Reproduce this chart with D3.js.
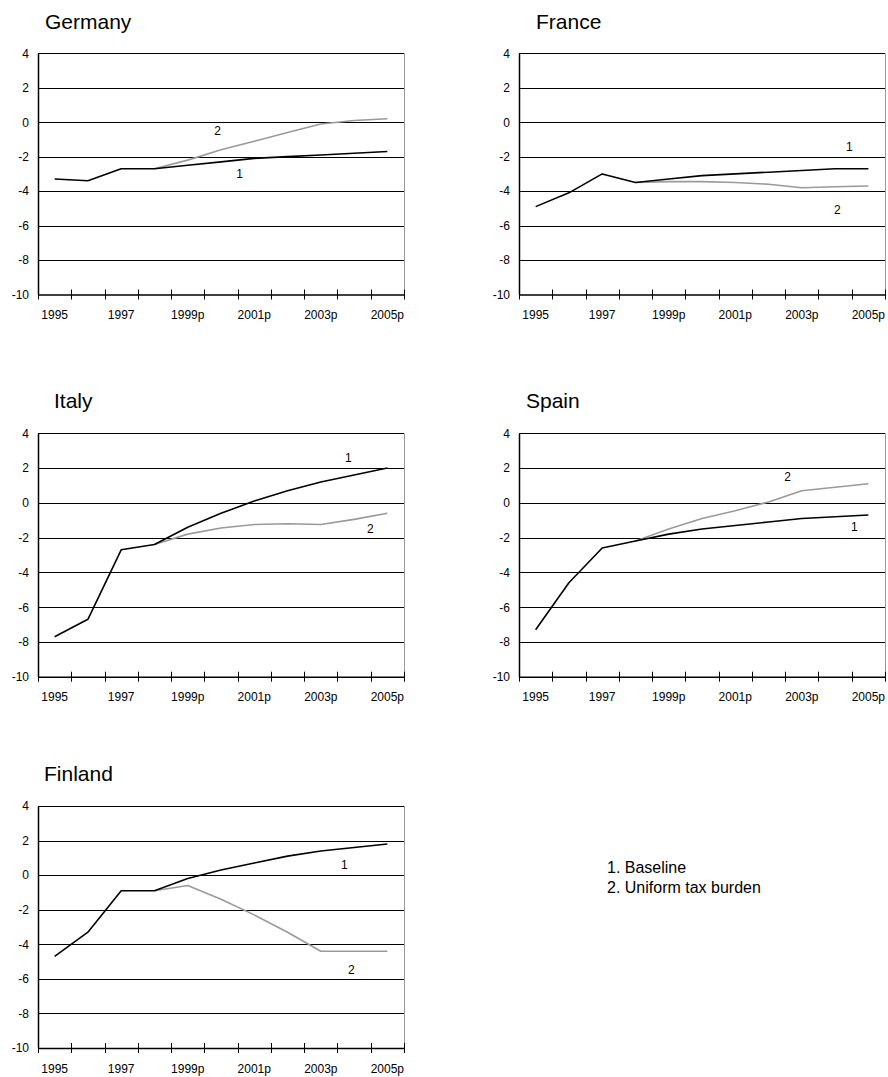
<!DOCTYPE html>
<html>
<head>
<meta charset="utf-8">
<script src="https://cdn.jsdelivr.net/npm/d3@7"></script>
<style>
  html, body { margin: 0; padding: 0; background: #fff; }
  svg { display: block; }
  text { font-family: "Liberation Sans", Arial, sans-serif; fill: #000; }
</style>
</head>
<body>
<svg id="chart" width="888" height="1077"></svg>
<script>
// ---------------- DATA ----------------
const years = ["1995","1996","1997","1998","1999p","2000p","2001p","2002p","2003p","2004p","2005p"];
const xTickLabels = ["1995","1997","1999p","2001p","2003p","2005p"];
const yTicks = [4, 2, 0, -2, -4, -6, -8, -10];
const countries = ["Germany", "France", "Italy", "Spain", "Finland"];
const seriesNames = ["1. Baseline", "2. Uniform tax burden"];

// Series 1: Baseline
const germanyBaseline = [-3.3, -3.4, -2.7, -2.7, -2.5, -2.3, -2.1, -2.0, -1.9, -1.8, -1.7];
const franceBaseline  = [-4.9, -4.1, -3.0, -3.5, -3.3, -3.1, -3.0, -2.9, -2.8, -2.7, -2.7];
const italyBaseline   = [-7.7, -6.7, -2.7, -2.4, -1.4, -0.6, 0.1, 0.7, 1.2, 1.6, 2.0];
const spainBaseline   = [-7.3, -4.6, -2.6, -2.2, -1.8, -1.5, -1.3, -1.1, -0.9, -0.8, -0.7];
const finlandBaseline = [-4.7, -3.3, -0.9, -0.9, -0.2, 0.3, 0.7, 1.1, 1.4, 1.6, 1.8];

// Series 2: Uniform tax burden (starts in 1998)
const germanyUniform = [null, null, null, -2.7, -2.2, -1.6, -1.1, -0.6, -0.1, 0.1, 0.2];
const franceUniform  = [null, null, null, -3.5, -3.45, -3.45, -3.5, -3.6, -3.8, -3.75, -3.7];
const italyUniform   = [null, null, null, -2.4, -1.8, -1.45, -1.25, -1.2, -1.25, -0.95, -0.6];
const spainUniform   = [null, null, null, -2.2, -1.5, -0.9, -0.45, 0.05, 0.7, 0.9, 1.1];
const finlandUniform = [null, null, null, -0.9, -0.6, -1.4, -2.3, -3.3, -4.4, -4.4, -4.4];

// Series number labels inside each panel: [text, year index (fractional), value]
const germanyNotes = [["2", 4.9, -0.5], ["1", 5.56, -3.0]];
const franceNotes  = [["1", 9.43, -1.45], ["2", 9.07, -5.1]];
const italyNotes   = [["1", 8.83, 2.6], ["2", 9.49, -1.5]];
const spainNotes   = [["2", 7.57, 1.5], ["1", 9.58, -1.4]];
const finlandNotes = [["1", 8.71, 0.6], ["2", 8.92, -5.5]];

// ---------------- LAYOUT ----------------
const cols = [{x0: 38, x1: 404}, {x0: 519, x1: 885}];
const rows = [{y0: 53.3, y1: 294.5}, {y0: 433.3, y1: 676.7}, {y0: 806, y1: 1048}];

const panels = [
  {name: countries[0], s1: germanyBaseline, s2: germanyUniform, notes: germanyNotes, col: 0, row: 0, tx: 45, ty: 29},
  {name: countries[1], s1: franceBaseline,  s2: franceUniform,  notes: franceNotes,  col: 1, row: 0, tx: 536, ty: 29},
  {name: countries[2], s1: italyBaseline,   s2: italyUniform,   notes: italyNotes,   col: 0, row: 1, tx: 54, ty: 408},
  {name: countries[3], s1: spainBaseline,   s2: spainUniform,   notes: spainNotes,   col: 1, row: 1, tx: 526, ty: 408},
  {name: countries[4], s1: finlandBaseline, s2: finlandUniform, notes: finlandNotes, col: 0, row: 2, tx: 44, ty: 781}
];

const svg = d3.select("#chart");

panels.forEach(p => {
  const c = cols[p.col], r = rows[p.row];
  const x = d3.scaleBand().domain(years).range([c.x0, c.x1]).paddingInner(0).paddingOuter(0);
  const bw = x.bandwidth();
  const cx = d => x(d) + bw / 2;
  const xi = i => c.x0 + (i + 0.5) * bw;
  const y = d3.scaleLinear().domain([-10, 4]).range([r.y1, r.y0]);

  const g = svg.append("g");

  // title
  g.append("text").attr("x", p.tx).attr("y", p.ty)
    .attr("font-size", 21).text(p.name);

  // gridlines
  g.append("g").selectAll("line").data(yTicks.filter(v => v > -10)).join("line")
    .attr("x1", c.x0).attr("x2", c.x1)
    .attr("y1", d => Math.round(y(d)) + 0.5).attr("y2", d => Math.round(y(d)) + 0.5)
    .attr("stroke", "#000").attr("stroke-width", 1);

  // right border
  g.append("line").attr("x1", c.x1 + 0.5).attr("x2", c.x1 + 0.5)
    .attr("y1", y(4)).attr("y2", y(-10))
    .attr("stroke", "#999").attr("stroke-width", 1);

  // y axis
  const ya = g.append("g").attr("transform", `translate(${c.x0},0)`)
    .call(d3.axisLeft(y).tickValues(yTicks).tickSize(0).tickSizeOuter(0).tickPadding(9)
      .tickFormat(d => d));
  ya.select(".domain").attr("stroke", "#000").attr("stroke-width", 1.5);
  ya.selectAll("text").attr("font-size", 12).attr("font-family", "Liberation Sans, Arial, sans-serif").attr("fill", "#000");

  // x axis
  const xa = g.append("g").attr("transform", `translate(0,${r.y1})`)
    .call(d3.axisBottom(x).tickValues(xTickLabels).tickSize(0).tickSizeOuter(0).tickPadding(16));
  xa.select(".domain").attr("stroke", "#000").attr("stroke-width", 1.5);
  xa.selectAll("text").attr("font-size", 12).attr("font-family", "Liberation Sans, Arial, sans-serif").attr("fill", "#000");

  // cross tick marks at band boundaries
  const bounds = years.map(d => x(d)).concat([c.x1]);
  g.append("g").selectAll("line").data(bounds).join("line")
    .attr("x1", d => Math.round(d) + 0.5).attr("x2", d => Math.round(d) + 0.5)
    .attr("y1", r.y1 - 5).attr("y2", r.y1 + 5)
    .attr("stroke", "#000").attr("stroke-width", 1);

  // lines
  const line = d3.line().defined(d => d[1] !== null)
    .x(d => cx(d[0])).y(d => y(d[1]));
  const d2 = years.map((yr, i) => [yr, p.s2[i]]);
  const d1 = years.map((yr, i) => [yr, p.s1[i]]);
  g.append("path").attr("d", line(d2)).attr("fill", "none")
    .attr("stroke", "#9a9a9a").attr("stroke-width", 1.6).attr("stroke-linejoin", "round");
  g.append("path").attr("d", line(d1)).attr("fill", "none")
    .attr("stroke", "#000").attr("stroke-width", 1.6).attr("stroke-linejoin", "round");

  // series number labels
  g.append("g").selectAll("text").data(p.notes).join("text")
    .attr("x", d => xi(d[1])).attr("y", d => y(d[2]))
    .attr("text-anchor", "middle").attr("dominant-baseline", "central")
    .attr("font-size", 12).text(d => d[0]);
});

// legend
svg.append("g").selectAll("text").data(seriesNames).join("text")
  .attr("x", 607).attr("y", (d, i) => 872.5 + i * 20)
  .attr("font-size", 16).text(d => d);
</script>
</body>
</html>
